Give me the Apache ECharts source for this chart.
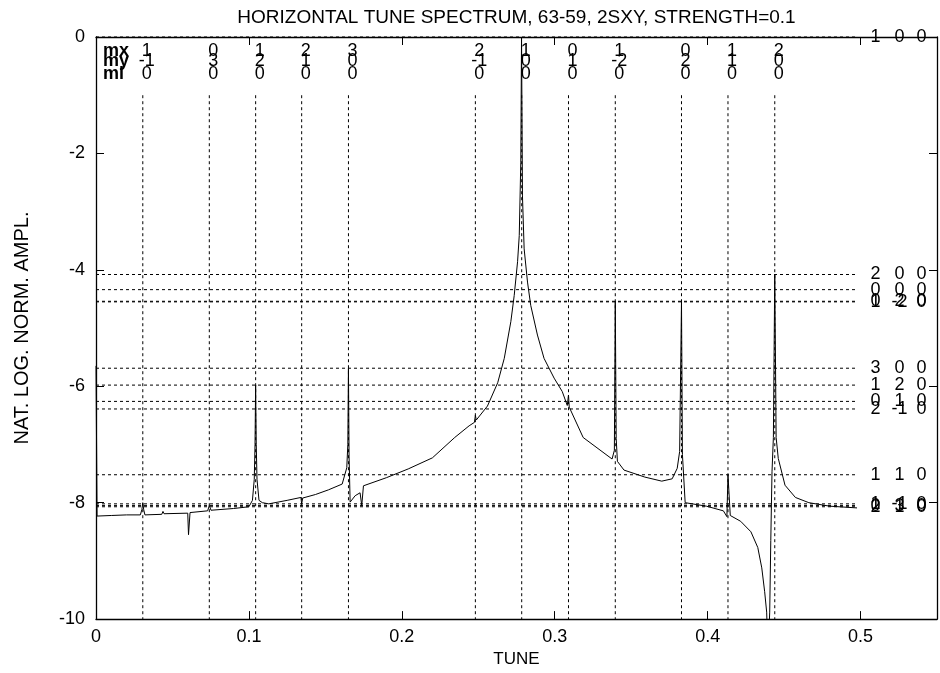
<!DOCTYPE html>
<html><head><meta charset="utf-8">
<script src="https://cdn.jsdelivr.net/npm/echarts@6/dist/echarts.min.js"></script>
<style>html,body{margin:0;padding:0;background:#fff}#c{width:940px;height:673px}</style>
</head><body><div id="c"></div>
<script>
const FONT = '"Liberation Sans", Arial, Helvetica, sans-serif';
const TITLE = 'HORIZONTAL TUNE SPECTRUM, 63-59, 2SXY, STRENGTH=0.1';
const X_NAME = 'TUNE';
const Y_NAME = 'NAT. LOG. NORM. AMPL.';

const xTicks = [0, 0.1, 0.2, 0.3, 0.4, 0.5];
const xTickLabels = ['0', '0.1', '0.2', '0.3', '0.4', '0.5'];
const yTicks = [0, -2, -4, -6, -8, -10];
const yTickLabels = ['0', '-2', '-4', '-6', '-8', '-10'];

// resonance lines (vertical) with mx / my / ml labels
const rowNames = ['mx', 'my', 'ml'];
const resTune = [0.0306, 0.0741, 0.1044, 0.1345, 0.1651, 0.2481, 0.2784, 0.3090, 0.3396, 0.3829, 0.4133, 0.4439];
const resMx   = [1, 0, 1, 2, 3, 2, 1, 0, 1, 0, 1, 2];
const resMy   = [-1, 3, 2, 1, 0, -1, 0, 1, -2, 2, 1, 0];
const resMl   = [0, 0, 0, 0, 0, 0, 0, 0, 0, 0, 0, 0];

// amplitude levels (horizontal) with mx my ml labels at right
const ampVal = [0, -4.08, -4.34, -4.54, -4.55, -5.69, -5.98, -6.26, -6.39, -7.52, -8.02, -8.05, -8.07];
const ampMx  = [1, 2, 0, 0, 1, 3, 1, 0, 2, 1, 1, 0, 2];
const ampMy  = [0, 0, 0, 2, -2, 0, 2, 1, -1, 1, -1, 3, 1];
const ampMl  = [0, 0, 0, 0, 0, 0, 0, 0, 0, 0, 0, 0, 0];

// spectrum
const specTune = [
  0.0000, 0.0007, 0.0100, 0.0200, 0.0290, 0.0300, 0.0306, 0.0312, 0.0320, 0.0430, 0.0438, 0.0445,
  0.0600, 0.0605, 0.0615, 0.0730, 0.0741, 0.0752, 0.0900, 0.1000, 0.1023, 0.1035, 0.1040,
  0.1044, 0.1048, 0.1053, 0.1066, 0.1088, 0.1130, 0.1250, 0.1340, 0.1345, 0.1352, 0.1435,
  0.1520, 0.1610, 0.1640, 0.1647, 0.1651, 0.1655, 0.1662, 0.1695, 0.1727, 0.1738, 0.1749,
  0.1900, 0.2042, 0.2200, 0.2346, 0.2440, 0.2475, 0.2481, 0.2487, 0.2560, 0.2627, 0.2670,
  0.2713, 0.2735, 0.2757, 0.2768, 0.2778, 0.2783, 0.2789, 0.2800, 0.2822, 0.2843, 0.2887,
  0.2930, 0.2996, 0.3049, 0.3082, 0.3090, 0.3095, 0.3186, 0.3375, 0.3390, 0.3396, 0.3402,
  0.3410, 0.3453, 0.3589, 0.3700, 0.3768, 0.3801, 0.3817, 0.3829, 0.3835, 0.3853, 0.3857,
  0.3992, 0.4103, 0.4126, 0.4133, 0.4148, 0.4216, 0.4283, 0.4328, 0.4354, 0.4373, 0.4386,
  0.4395, 0.4406, 0.4413, 0.4421, 0.4430, 0.4439, 0.4448, 0.4462, 0.4506, 0.4574, 0.4662,
  0.4798, 0.4977
];
const specAmp = [
  -5.65, -8.23, -8.22, -8.21, -8.21, -8.12, -8.00, -8.12, -8.21, -8.20, -8.15, -8.19,
  -8.18, -8.55, -8.17, -8.14, -8.05, -8.13, -8.10, -8.07, -7.96, -7.60, -7.00,
  -5.98, -7.00, -7.60, -7.96, -8.00, -8.02, -7.96, -7.91, -8.02, -7.92, -7.86,
  -7.78, -7.68, -7.40, -7.00, -5.69, -7.20, -7.99, -7.88, -7.83, -8.05, -7.71,
  -7.57, -7.42, -7.23, -6.88, -6.68, -6.62, -6.50, -6.58, -6.34, -5.94, -5.52,
  -4.89, -4.44, -3.86, -3.41, -2.15, 0.00, -2.73, -3.64, -4.21, -4.61, -5.12,
  -5.52, -5.86, -6.09, -6.33, -6.15, -6.36, -6.88, -7.25, -7.10, -4.54, -6.90,
  -7.29, -7.44, -7.56, -7.63, -7.59, -7.41, -7.12, -4.54, -7.17, -8.00, -8.03,
  -8.06, -8.14, -8.24, -7.52, -8.22, -8.32, -8.50, -8.77, -9.12, -9.53, -9.88,
  -10.60, -9.88, -8.65, -7.47, -6.88, -4.08, -6.88, -7.24, -7.70, -7.91, -8.00,
  -8.06, -8.09
];

const chart = echarts.init(document.getElementById('c'), null, {renderer: 'canvas'});

const tickFmtX = v => { const i = xTicks.findIndex(t => Math.abs(t - v) < 1e-9); return i >= 0 ? xTickLabels[i] : ''; };
const tickFmtY = v => { const i = yTicks.findIndex(t => Math.abs(t - v) < 1e-9); return i >= 0 ? yTickLabels[i] : ''; };

const frameLine = {show: true, onZero: false, lineStyle: {color: '#000', width: 1.3}};
const tickIn = {show: true, inside: true, length: 8, lineStyle: {color: '#000', width: 1}};
const DASH = [3, 3];
const labelFont = {fontSize: 18, fontFamily: FONT, fill: '#000'};
const TOP_OFFS = [14, 24, 37];
const LINE_END = 0.498;

const option = {
  animation: false,
  backgroundColor: '#fff',
  grid: {left: 96, top: 37, right: -2, bottom: 50.5, containLabel: false},
  xAxis: [
    {type: 'value', position: 'bottom', min: 0, max: 0.55, interval: 0.1,
     axisLine: frameLine, axisTick: tickIn, splitLine: {show: false},
     axisLabel: {color: '#000', fontSize: 18, fontFamily: FONT, margin: 9, formatter: tickFmtX},
     name: X_NAME, nameLocation: 'middle', nameGap: 28,
     nameTextStyle: {color: '#000', fontSize: 17, fontFamily: FONT}},
    {type: 'value', position: 'top', min: 0, max: 0.55, interval: 0.1,
     axisLine: frameLine, axisTick: tickIn, splitLine: {show: false}, axisLabel: {show: false},
     name: TITLE, nameLocation: 'middle', nameGap: 10,
     nameTextStyle: {color: '#000', fontSize: 19, fontFamily: FONT}}
  ],
  yAxis: [
    {type: 'value', position: 'left', min: -10, max: 0, interval: 2,
     axisLine: frameLine, axisTick: tickIn, splitLine: {show: false},
     axisLabel: {color: '#000', fontSize: 18, fontFamily: FONT, margin: 11, formatter: tickFmtY},
     name: Y_NAME, nameLocation: 'middle', nameGap: 64, nameRotate: 90,
     nameTextStyle: {color: '#000', fontSize: 20, fontFamily: FONT}},
    {type: 'value', position: 'right', min: -10, max: 0, interval: 2,
     axisLine: frameLine, axisTick: tickIn, splitLine: {show: false}, axisLabel: {show: false}}
  ],
  series: [
    { // vertical resonance lines + top labels
      type: 'custom', coordinateSystem: 'cartesian2d', clip: false, z: 2,
      data: resTune.map((t, i) => [t, i]),
      renderItem: function (params, api) {
        const t = api.value(0), i = api.value(1);
        const a = api.coord([t, -1]), b = api.coord([t, -10]), base = api.coord([t, 0]);
        const vals = [resMx[i], resMy[i], resMl[i]];
        const children = [{type: 'line', shape: {x1: a[0], y1: a[1], x2: b[0], y2: b[1]},
          style: {stroke: '#000', lineWidth: 1, lineDash: DASH}}];
        vals.forEach((v, k) => children.push({type: 'text', x: base[0] + 4, y: base[1] + TOP_OFFS[k],
          style: Object.assign({text: String(v), align: 'center', verticalAlign: 'middle'}, labelFont)}));
        return {type: 'group', children: children};
      }
    },
    { // row names
      type: 'custom', coordinateSystem: 'cartesian2d', clip: false, z: 3,
      data: [[0, 0]],
      renderItem: function (params, api) {
        const base = api.coord([api.value(0), api.value(1)]);
        return {type: 'group', children: rowNames.map((n, k) => ({type: 'text', x: base[0] + 7, y: base[1] + TOP_OFFS[k],
          style: {text: n, align: 'left', verticalAlign: 'middle', fontSize: 18, fontWeight: 'bold', fontFamily: FONT, fill: '#000'}}))};
      }
    },
    { // horizontal amplitude lines + right labels
      type: 'custom', coordinateSystem: 'cartesian2d', clip: false, z: 2,
      data: ampVal.map((v, i) => [0.5, v, i]),
      renderItem: function (params, api) {
        const v = api.value(1), i = api.value(2);
        const a = api.coord([0, v]), e = api.coord([LINE_END, v]), b = api.coord([0.5, v]);
        const vals = [ampMx[i], ampMy[i], ampMl[i]];
        const offs = [15, 39, 61];
        const children = [{type: 'line', shape: {x1: a[0], y1: a[1], x2: e[0], y2: e[1]},
          style: {stroke: '#000', lineWidth: 1, lineDash: DASH}}];
        vals.forEach((val, k) => children.push({type: 'text', x: b[0] + offs[k], y: b[1],
          style: Object.assign({text: String(val), align: 'center', verticalAlign: 'middle'}, labelFont)}));
        return {type: 'group', children: children};
      }
    },
    {
      type: 'line', xAxisIndex: 0, yAxisIndex: 0, showSymbol: false, clip: true, z: 5,
      data: specTune.map((t, i) => [t, specAmp[i]]),
      lineStyle: {color: '#000', width: 1}, itemStyle: {color: '#000'}
    }
  ]
};
chart.setOption(option);
</script>
</body></html>
